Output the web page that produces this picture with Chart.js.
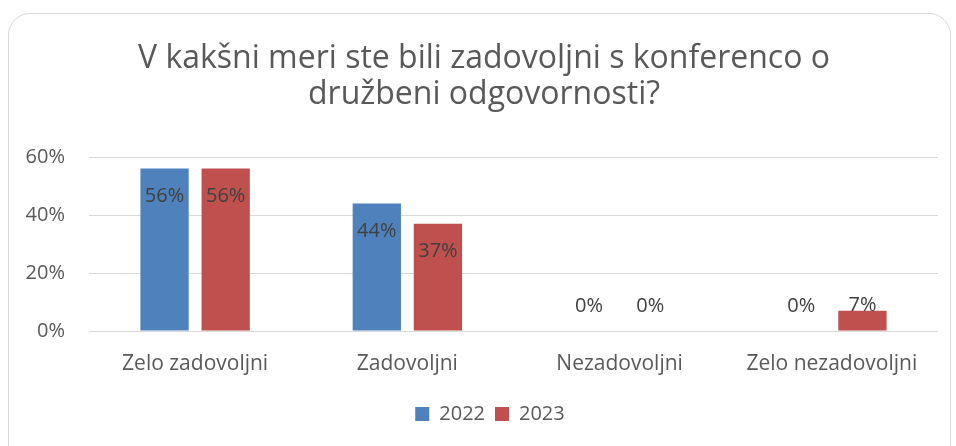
<!DOCTYPE html>
<html>
<head>
<meta charset="utf-8">
<script src="https://cdn.jsdelivr.net/npm/chart.js@4"></script>
<style>
  html, body { margin: 0; padding: 0; background: #fff; }
  #wrap { position: relative; width: 956px; height: 446px; overflow: hidden; }
  #frame { position: absolute; left: 8px; top: 13px; width: 943px; height: 460px;
           border: 1px solid #d9d9d9; border-radius: 22px; box-sizing: border-box; }
  canvas { position: absolute; left: 0; top: 0; }
</style>
</head>
<body>
<div id="wrap">
  <div id="frame"></div>
  <canvas id="c" width="956" height="446"></canvas>
</div>
<script>
const titleLines = ["V kakšni meri ste bili zadovoljni s konferenco o", "družbeni odgovornosti?"];
const categories = ["Zelo zadovoljni", "Zadovoljni", "Nezadovoljni", "Zelo nezadovoljni"];
const seriesNames = ["2022", "2023"];
const values2022 = [0.56, 0.44, 0, 0];
const values2023 = [0.56, 0.37, 0, 0.07];
const yTicks = [0, 0.2, 0.4, 0.6];

const FONT = "'Open Sans', sans-serif";
const TXT = "#595959";

const dataLabels = {
  id: 'dataLabels',
  afterDatasetsDraw(chart) {
    const ctx = chart.ctx;
    ctx.save();
    ctx.font = "20px " + FONT;
    ctx.fillStyle = "#404040";
    ctx.textAlign = "center";
    ctx.textBaseline = "middle";
    chart.data.datasets.forEach((ds, i) => {
      const meta = chart.getDatasetMeta(i);
      meta.data.forEach((bar, j) => {
        const v = ds.data[j];
        const y = Math.min(bar.y + 28, bar.base - 25);
        ctx.fillText(Math.round(v * 100) + "%", bar.x, y);
      });
    });
    ctx.restore();
  }
};

const shiftBlocks = {
  id: 'shiftBlocks',
  afterLayout(chart) {
    if (chart.legend) { chart.legend.left += 11; chart.legend.right += 11; }
    if (chart.titleBlock) { chart.titleBlock.left += 5; chart.titleBlock.right += 5; }
  }
};

new Chart(document.getElementById('c'), {
  type: 'bar',
  data: {
    labels: categories,
    datasets: [
      { label: seriesNames[0], data: values2022, backgroundColor: "#4F81BD",
        categoryPercentage: 0.576, barPercentage: 0.79 },
      { label: seriesNames[1], data: values2023, backgroundColor: "#C0504D",
        categoryPercentage: 0.576, barPercentage: 0.79 }
    ]
  },
  options: {
    responsive: false,
    animation: false,
    devicePixelRatio: 1,
    layout: { padding: { left: 20, right: 18, top: 41, bottom: 12 } },
    plugins: {
      title: {
        display: true,
        text: titleLines,
        color: TXT,
        font: { family: FONT, size: 32, weight: 'normal', lineHeight: 1.125 },
        padding: { top: 0, bottom: 44 }
      },
      legend: {
        position: 'bottom',
        labels: { color: TXT, font: { family: FONT, size: 20 }, boxWidth: 14, boxHeight: 14, padding: 10 }
      },
      tooltip: { enabled: false }
    },
    scales: {
      x: {
        afterFit(scale) { scale.height = 63; },
        grid: { display: false },
        border: { display: false },
        ticks: { color: TXT, font: { family: FONT, size: 21 }, padding: 12, maxRotation: 0 }
      },
      y: {
        min: 0, max: 0.6,
        afterBuildTicks(scale) { scale.ticks = yTicks.map(v => ({ value: v })); },
        afterFit(scale) { scale.width = 69; },
        grid: { color: "#d9d9d9", lineWidth: 1, drawTicks: false },
        border: { display: false },
        ticks: { color: TXT, font: { family: FONT, size: 20 }, padding: 24,
                 callback: v => Math.round(v * 100) + "%" }
      }
    }
  },
  plugins: [dataLabels, shiftBlocks]
});
</script>
</body>
</html>
